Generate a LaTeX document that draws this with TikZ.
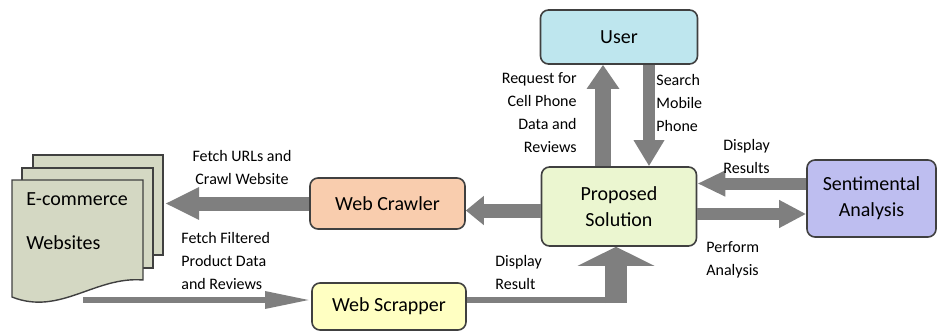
\documentclass[tikz,border=0pt]{standalone}
\usepackage{fontspec}
\setmainfont{Carlito}
\usetikzlibrary{arrows.meta,calc}

\definecolor{usercol}{RGB}{190,230,238}
\definecolor{propcol}{RGB}{235,246,208}
\definecolor{crawlcol}{RGB}{249,205,174}
\definecolor{scrapcol}{RGB}{255,255,194}
\definecolor{senticol}{RGB}{190,190,240}
\definecolor{doccol}{RGB}{212,216,195}
\definecolor{arrcol}{RGB}{127,127,127}
\definecolor{edgecol}{RGB}{64,64,64}

\tikzset{
  box/.style={draw=edgecol, line width=0.8pt, rounded corners=4pt, align=center,
    font=\fontsize{10}{13}\selectfont},
  lbl/.style={inner sep=0pt, font=\fontsize{8}{11.5}\selectfont},
  fat/.style={draw=arrcol, line width=#1}
}

\begin{document}
\begin{tikzpicture}[x=0.5pt, y=-0.5pt]
    \useasboundingbox (0,0) rectangle (937,332);

    % Cajas
    \node[box, fill=usercol, minimum width=78.5pt, minimum height=27pt] (user) at (619,37) {User};
    \node[box, fill=propcol, minimum width=77.5pt, minimum height=39.5pt] (prop) at (619,206.5) {Proposed\\Solution};
    \node[box, fill=crawlcol, minimum width=77.5pt, minimum height=25.5pt] (crawler) at (387.5,203.5) {Web Crawler};
    \node[box, fill=scrapcol, minimum width=77pt, minimum height=23.5pt] (scrap) at (389,306.5) {Web Scrapper};
    \node[box, fill=senticol, minimum width=64.5pt, minimum height=38.5pt] (senti) at (871.5,198.5) {Sentimental\\Analysis};

    % Documentos
    \coordinate (webR) at (165,203.5);
    \coordinate (webB) at (83,300);
    \coordinate (elb) at (616,300);
    \draw[fat=3pt, -{Triangle[width=8pt,length=23pt]}] (webB) -- (scrap.west |- webB);
    \draw[draw=edgecol, line width=0.7pt, fill=doccol] (33,155) rectangle (163,255);
    \draw[draw=edgecol, line width=0.7pt, fill=doccol] (22,168) rectangle (153,268);
    \draw[draw=edgecol, line width=0.7pt, fill=doccol] (12,180) -- (143,180) -- (143,280)
        .. controls (95,276) and (60,316) .. (12,297) -- cycle;
    \node[inner sep=0pt, anchor=west, align=left, font=\fontsize{10}{22}\selectfont] (web) at (26,221) {E-commerce\\Websites};

    % Flechas
    \draw[fat=7pt, -{Triangle[width=15pt,length=17pt]}] (crawler.west) -- (webR);
    \draw[fat=7pt, -{Triangle[width=14pt,length=9pt]}] ([yshift=-2pt]prop.west) -- ([yshift=-2pt]prop.west -| crawler.east);
    \draw[fat=8pt, -{Triangle[width=15.5pt,length=12pt]}] ([xshift=-8pt]prop.north) -- ([xshift=-8pt]user.south);
    \draw[fat=6pt, -{Triangle[width=14.5pt,length=13pt]}] ([xshift=15pt]user.south) -- ([xshift=15pt]prop.north);
    \draw[fat=6pt, -{Triangle[width=12pt,length=14pt]}] ([yshift=7.5pt]senti.west) -- ([yshift=7.5pt]senti.west -| prop.east);
    \draw[fat=6pt, -{Triangle[width=13pt,length=13.5pt]}] ([yshift=-3.75pt]prop.east) -- ([yshift=-3.75pt]prop.east -| senti.west);
    \draw[fat=3pt] (scrap.east |- elb) -- ([xshift=5pt]elb);
    \draw[fat=11pt, -{Triangle[width=38pt,length=9.5pt]}] ([yshift=-1.5pt]elb) -- (prop.south -| elb);

    % Etiquetas
    \node[lbl, align=center] (l1) at (242,167.5) {Fetch URLs and\\Crawl Website};
    \node[lbl, anchor=west, align=left] (l2) at (181,261.5) {Fetch Filtered\\Product Data\\and Reviews};
    \node[lbl, anchor=west, align=left] (l3) at (495,272.5) {Display\\Result};
    \node[lbl, anchor=east, align=right] (l4) at (577,113) {Request for\\Cell Phone\\Data and\\Reviews};
    \node[lbl, anchor=west, align=left] (l5) at (656,103) {Search\\Mobile\\Phone};
    \node[lbl, anchor=west, align=left] (l6) at (723,156.5) {Display\\Results};
    \node[lbl, anchor=west, align=left] (l7) at (706,259.5) {Perform\\Analysis};
\end{tikzpicture}
\end{document}
